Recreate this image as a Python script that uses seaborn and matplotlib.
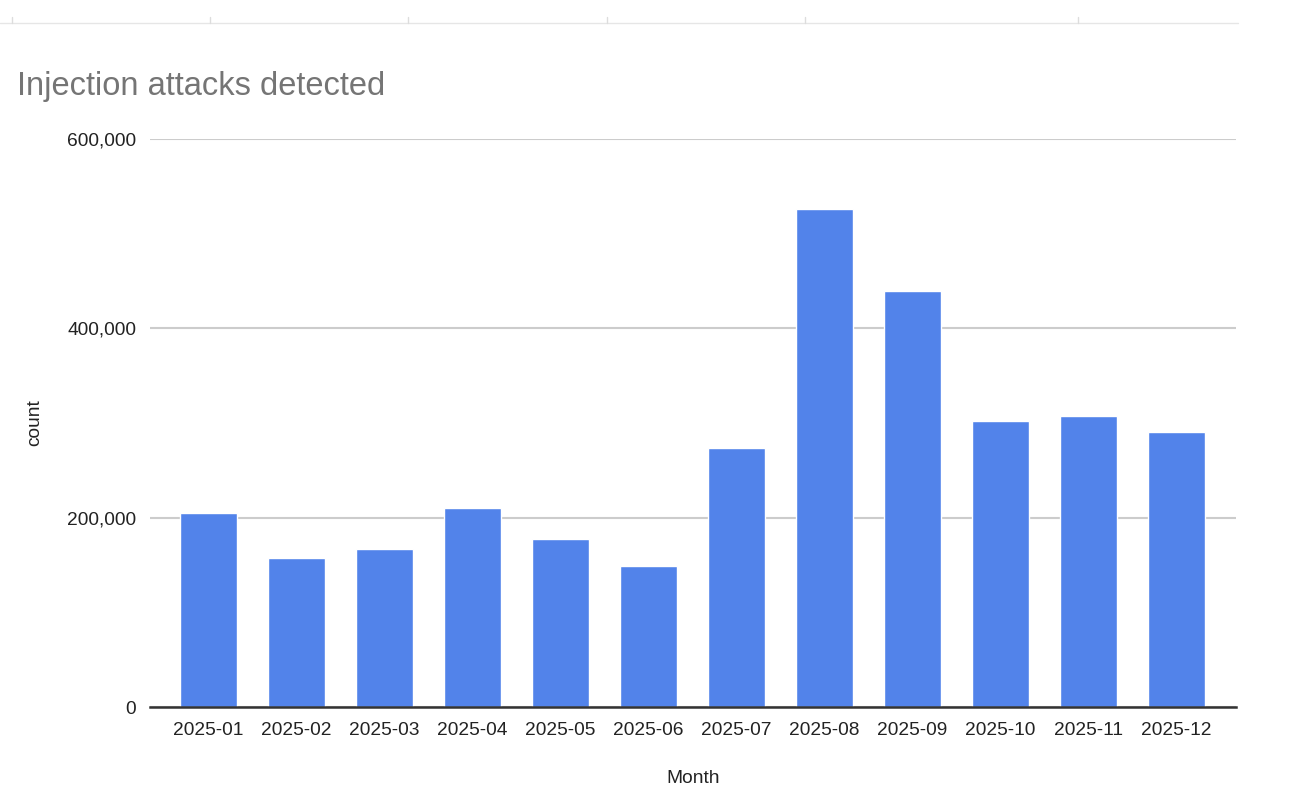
import matplotlib
matplotlib.use("Agg")
import matplotlib.pyplot as plt
import matplotlib.ticker as mticker
from matplotlib.lines import Line2D
import pandas as pd
import seaborn as sns

months = ["2025-01", "2025-02", "2025-03", "2025-04", "2025-05", "2025-06",
          "2025-07", "2025-08", "2025-09", "2025-10", "2025-11", "2025-12"]
counts = [204500, 157800, 166500, 210000, 177000, 148500,
          274000, 526000, 439000, 302000, 307000, 290000]
y_ticks = [0, 200000, 400000, 600000]

df = pd.DataFrame({"Month": months, "count": counts})

sns.set_theme(style="white")
plt.rcParams["font.family"] = ["Liberation Sans", "DejaVu Sans"]

fig = plt.figure(figsize=(13.1, 8.1), dpi=100)
ax = fig.add_axes([150 / 1310, 1 - 707 / 810, (1236 - 150) / 1310, (707 - 139) / 810])

sns.barplot(data=df, x="Month", y="count", color="#5283EA", width=0.648,
            saturation=1, ax=ax)

ax.set_ylim(0, 600000)
ax.set_xlim(-0.665, 11.676)
ax.set_yticks(y_ticks)
ax.yaxis.set_major_formatter(mticker.FuncFormatter(lambda v, p: f"{int(v):,}"))
ax.grid(axis="y", color="#cccccc", linewidth=1.5)
ax.set_axisbelow(True)
for side in ["top", "right", "left"]:
    ax.spines[side].set_visible(False)
ax.spines["bottom"].set_color("#333333")
ax.spines["bottom"].set_linewidth(1.8)
ax.spines["bottom"].set_zorder(5)
ax.tick_params(axis="both", length=0, labelsize=13.8, colors="#222222", pad=10)
ax.tick_params(axis="x", pad=11)

ax.set_xlabel("Month", fontsize=13.8, color="#222222", labelpad=22)
ax.set_ylabel("count", fontsize=13.8, color="#222222")
ax.yaxis.set_label_coords(-0.098, 0.5)

fig.text(17 / 1310, 1 - 87 / 810, "Injection attacks detected", fontsize=23.5,
         color="#757575", ha="left", va="center")

# faint spreadsheet header strip at the very top
fig.add_artist(Line2D([0, 1238 / 1310], [1 - 23 / 810, 1 - 23 / 810],
                      color="#e6e6e6", linewidth=1))
for tx in [12, 210, 408, 607, 805, 1078]:
    fig.add_artist(Line2D([tx / 1310, tx / 1310], [1 - 23 / 810, 1 - 17 / 810],
                          color="#dddddd", linewidth=1))

fig.savefig("out.png", dpi=100, facecolor="white")
